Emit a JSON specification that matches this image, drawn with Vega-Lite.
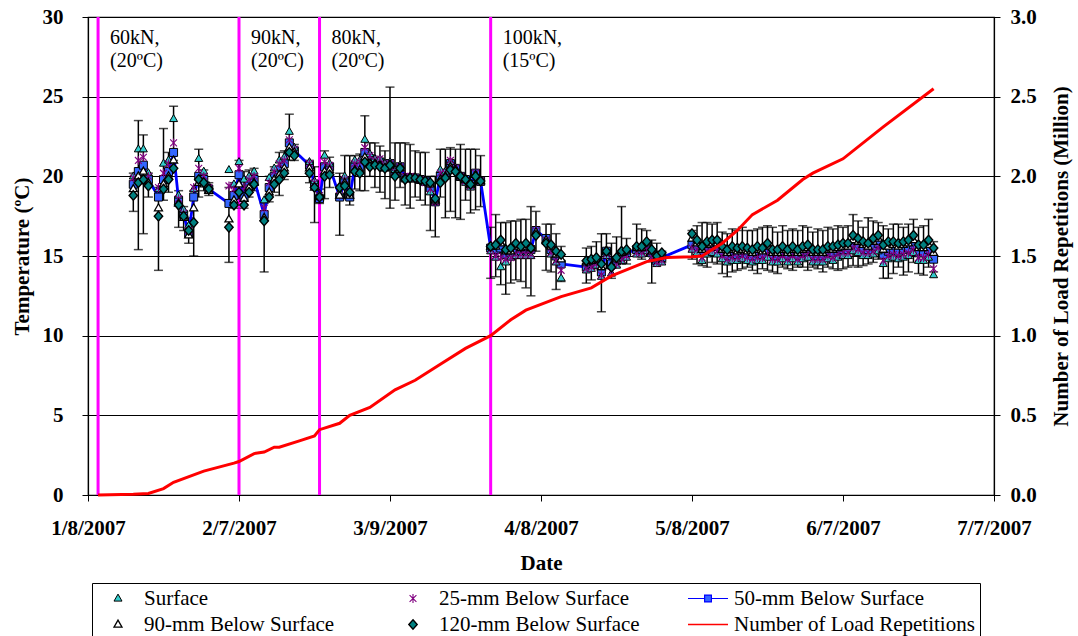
{
  "$schema": "https://vega.github.io/schema/vega-lite/v6.json",
  "width": 906,
  "height": 478,
  "autosize": {"type": "none"},
  "padding": {"left": 88, "top": 17, "right": 84, "bottom": 141},
  "background": "white",
  "config": {
    "font": "Liberation Serif",
    "view": {"stroke": "black", "strokeWidth": 1.2},
    "axis": {
      "labelFont": "Liberation Serif", "titleFont": "Liberation Serif",
      "labelFontSize": 21, "titleFontSize": 21,
      "labelFontWeight": "bold", "titleFontWeight": "bold",
      "labelColor": "black", "titleColor": "black",
      "domainColor": "black", "tickColor": "black", "domainWidth": 1.2,
      "gridColor": "black", "gridOpacity": 1, "gridWidth": 1, "tickSize": 6
    }
  },
  "datasets": {
    "events": [
      {"date": "2007/01/10", "note": "60kN,\n(20ºC)"},
      {"date": "2007/02/07", "note": "90kN,\n(20ºC)"},
      {"date": "2007/02/23", "note": "80kN,\n(20ºC)"},
      {"date": "2007/03/29", "note": "100kN,\n(15ºC)"}
    ],
    "load": [
      {"date": "2007/01/10", "reps": 0}, {"date": "2007/01/17", "reps": 0.005},
      {"date": "2007/01/20", "reps": 0.01}, {"date": "2007/01/23", "reps": 0.04},
      {"date": "2007/01/25", "reps": 0.08}, {"date": "2007/01/31", "reps": 0.15},
      {"date": "2007/02/06", "reps": 0.2}, {"date": "2007/02/07", "reps": 0.21},
      {"date": "2007/02/10", "reps": 0.26}, {"date": "2007/02/12", "reps": 0.27},
      {"date": "2007/02/14", "reps": 0.3}, {"date": "2007/02/15", "reps": 0.3},
      {"date": "2007/02/19", "reps": 0.34}, {"date": "2007/02/22", "reps": 0.37},
      {"date": "2007/02/23", "reps": 0.41}, {"date": "2007/02/27", "reps": 0.45},
      {"date": "2007/03/01", "reps": 0.5}, {"date": "2007/03/05", "reps": 0.55},
      {"date": "2007/03/10", "reps": 0.66}, {"date": "2007/03/14", "reps": 0.72},
      {"date": "2007/03/19", "reps": 0.82}, {"date": "2007/03/24", "reps": 0.92},
      {"date": "2007/03/29", "reps": 1.0}, {"date": "2007/04/02", "reps": 1.1},
      {"date": "2007/04/05", "reps": 1.16}, {"date": "2007/04/12", "reps": 1.245},
      {"date": "2007/04/18", "reps": 1.3}, {"date": "2007/04/22", "reps": 1.375},
      {"date": "2007/04/29", "reps": 1.465}, {"date": "2007/05/03", "reps": 1.49},
      {"date": "2007/05/08", "reps": 1.495}, {"date": "2007/05/10", "reps": 1.5},
      {"date": "2007/05/14", "reps": 1.58}, {"date": "2007/05/17", "reps": 1.66},
      {"date": "2007/05/20", "reps": 1.76}, {"date": "2007/05/25", "reps": 1.85},
      {"date": "2007/05/30", "reps": 1.98}, {"date": "2007/06/01", "reps": 2.02},
      {"date": "2007/06/07", "reps": 2.11}, {"date": "2007/06/15", "reps": 2.31},
      {"date": "2007/06/25", "reps": 2.55}
    ],
    "temps": [
      {"date": "2007/01/17", "d000": 20.0, "d025": 19.9, "d050": 19.5, "d090": 19.2, "d120": 18.8, "lo": 17.8, "hi": 20.2},
      {"date": "2007/01/18", "d000": 21.7, "d025": 21.0, "d050": 20.3, "d090": 20.0, "d120": 19.6, "lo": 15.4, "hi": 23.5},
      {"date": "2007/01/19", "d000": 21.7, "d025": 21.2, "d050": 20.7, "d090": 20.3, "d120": 19.8, "lo": 16.4, "hi": 22.6},
      {"date": "2007/01/20", "d000": 20.2, "d025": 20.0, "d050": 19.8, "d090": 19.6, "d120": 19.4, "lo": 18.7, "hi": 20.2},
      {"date": "2007/01/22", "d000": 19.2, "d025": 19.3, "d050": 18.7, "d090": 18.0, "d120": 17.5, "lo": 14.1, "hi": 19.3},
      {"date": "2007/01/23", "d000": 20.8, "d025": 20.2, "d050": 19.8, "d090": 19.5, "d120": 19.2, "lo": 18.5, "hi": 23.0},
      {"date": "2007/01/24", "d000": 21.0, "d025": 20.8, "d050": 20.3, "d090": 20.0, "d120": 19.8, "lo": 19.0, "hi": 21.5},
      {"date": "2007/01/25", "d000": 23.6, "d025": 22.1, "d050": 21.5, "d090": 21.0, "d120": 20.5, "lo": 21.0, "hi": 24.4},
      {"date": "2007/01/26", "d000": 18.8, "d025": 18.6, "d050": 18.5, "d090": 18.3, "d120": 18.2, "lo": 16.8, "hi": 19.1},
      {"date": "2007/01/27", "d000": 17.9, "d025": 17.7, "d050": 17.6, "d090": 17.4, "d120": 17.5, "lo": 16.6, "hi": 18.1},
      {"date": "2007/01/28", "d000": 16.9, "d025": 16.6, "d050": 16.4, "d090": 16.3, "d120": 16.6, "lo": 15.8, "hi": 17.4},
      {"date": "2007/01/29", "d000": 19.2, "d025": 19.3, "d050": 18.7, "d090": 18.0, "d120": 17.1, "lo": 15.0, "hi": 19.1},
      {"date": "2007/01/30", "d000": 21.1, "d025": 20.5, "d050": 20.0, "d090": 19.6, "d120": 19.8, "lo": 18.7, "hi": 21.7},
      {"date": "2007/01/31", "d000": 20.3, "d025": 20.0, "d050": 19.8, "d090": 19.5, "d120": 19.6, "lo": 19.1, "hi": 20.4},
      {"date": "2007/02/01", "d000": 19.4, "d025": 19.3, "d050": 19.2, "d090": 19.1, "d120": 19.2, "lo": 18.8, "hi": 19.6},
      {"date": "2007/02/05", "d000": 20.4, "d025": 19.4, "d050": 18.3, "d090": 17.3, "d120": 16.8, "lo": 14.6, "hi": 19.3},
      {"date": "2007/02/06", "d000": 19.5, "d025": 19.2, "d050": 18.8, "d090": 18.5, "d120": 18.2, "lo": 18.0, "hi": 19.6},
      {"date": "2007/02/07", "d000": 20.9, "d025": 20.5, "d050": 20.1, "d090": 19.5, "d120": 19.0, "lo": 18.6, "hi": 21.0},
      {"date": "2007/02/08", "d000": 19.8, "d025": 19.3, "d050": 18.7, "d090": 18.6, "d120": 18.2, "lo": 18.0, "hi": 20.3},
      {"date": "2007/02/09", "d000": 20.0, "d025": 19.8, "d050": 19.5, "d090": 19.3, "d120": 19.0, "lo": 18.7, "hi": 20.4},
      {"date": "2007/02/10", "d000": 20.3, "d025": 20.0, "d050": 19.8, "d090": 19.6, "d120": 19.5, "lo": 19.1, "hi": 20.5},
      {"date": "2007/02/12", "d000": 18.5, "d025": 18.0, "d050": 17.6, "d090": 17.4, "d120": 17.2, "lo": 14.0, "hi": 18.3},
      {"date": "2007/02/13", "d000": 19.9, "d025": 19.6, "d050": 19.3, "d090": 19.0, "d120": 18.7, "lo": 18.4, "hi": 20.0},
      {"date": "2007/02/14", "d000": 20.5, "d025": 20.3, "d050": 20.0, "d090": 19.8, "d120": 19.5, "lo": 19.0, "hi": 20.6},
      {"date": "2007/02/15", "d000": 21.0, "d025": 20.8, "d050": 20.4, "d090": 20.1, "d120": 19.8, "lo": 18.8, "hi": 21.5},
      {"date": "2007/02/16", "d000": 21.2, "d025": 21.0, "d050": 20.8, "d090": 20.5, "d120": 20.2, "lo": 19.8, "hi": 21.6},
      {"date": "2007/02/17", "d000": 22.8, "d025": 22.3, "d050": 22.1, "d090": 21.8, "d120": 21.5, "lo": 21.0, "hi": 23.9},
      {"date": "2007/02/18", "d000": 21.8, "d025": 21.7, "d050": 21.6, "d090": 21.5, "d120": 21.3, "lo": 21.0, "hi": 22.0},
      {"date": "2007/02/21", "d000": 20.9, "d025": 20.8, "d050": 20.7, "d090": 20.5, "d120": 20.2, "lo": 19.6, "hi": 21.0},
      {"date": "2007/02/22", "d000": 19.7, "d025": 19.6, "d050": 19.5, "d090": 19.3, "d120": 19.3, "lo": 17.1, "hi": 20.6},
      {"date": "2007/02/23", "d000": 18.9, "d025": 18.8, "d050": 18.6, "d090": 18.7, "d120": 18.7, "lo": 18.3, "hi": 19.2},
      {"date": "2007/02/24", "d000": 21.3, "d025": 20.9, "d050": 20.6, "d090": 20.3, "d120": 20.0, "lo": 18.6, "hi": 21.6},
      {"date": "2007/02/25", "d000": 20.8, "d025": 20.7, "d050": 20.6, "d090": 20.4, "d120": 20.1, "lo": 19.3, "hi": 21.2},
      {"date": "2007/02/27", "d000": 19.0, "d025": 18.8, "d050": 18.7, "d090": 18.8, "d120": 19.3, "lo": 16.3, "hi": 20.2},
      {"date": "2007/02/28", "d000": 20.0, "d025": 19.8, "d050": 19.7, "d090": 19.6, "d120": 19.4, "lo": 18.6, "hi": 21.3},
      {"date": "2007/03/01", "d000": 19.0, "d025": 18.9, "d050": 18.7, "d090": 18.8, "d120": 19.0, "lo": 18.2, "hi": 21.3},
      {"date": "2007/03/02", "d000": 21.0, "d025": 20.8, "d050": 20.6, "d090": 20.4, "d120": 20.3, "lo": 19.2, "hi": 21.3},
      {"date": "2007/03/03", "d000": 21.0, "d025": 20.9, "d050": 20.6, "d090": 20.4, "d120": 20.2, "lo": 19.1, "hi": 21.4},
      {"date": "2007/03/04", "d000": 22.3, "d025": 21.8, "d050": 21.5, "d090": 21.2, "d120": 20.9, "lo": 19.1, "hi": 23.8},
      {"date": "2007/03/05", "d000": 21.4, "d025": 21.3, "d050": 21.1, "d090": 20.8, "d120": 20.6, "lo": 20.0, "hi": 22.1},
      {"date": "2007/03/06", "d000": 21.1, "d025": 21.0, "d050": 20.9, "d090": 20.8, "d120": 20.7, "lo": 19.3, "hi": 22.1},
      {"date": "2007/03/07", "d000": 21.1, "d025": 21.1, "d050": 20.9, "d090": 20.7, "d120": 20.6, "lo": 19.0, "hi": 21.9},
      {"date": "2007/03/08", "d000": 20.8, "d025": 20.7, "d050": 20.6, "d090": 20.5, "d120": 20.5, "lo": 18.6, "hi": 21.6},
      {"date": "2007/03/09", "d000": 20.9, "d025": 20.8, "d050": 20.8, "d090": 20.7, "d120": 20.7, "lo": 18.0, "hi": 25.6},
      {"date": "2007/03/10", "d000": 20.4, "d025": 20.3, "d050": 20.2, "d090": 20.1, "d120": 20.0, "lo": 18.5, "hi": 22.1},
      {"date": "2007/03/11", "d000": 20.7, "d025": 20.6, "d050": 20.6, "d090": 20.5, "d120": 20.5, "lo": 19.3, "hi": 22.1},
      {"date": "2007/03/12", "d000": 20.0, "d025": 20.0, "d050": 19.9, "d090": 19.9, "d120": 19.8, "lo": 18.2, "hi": 22.1},
      {"date": "2007/03/13", "d000": 20.0, "d025": 20.0, "d050": 19.9, "d090": 19.9, "d120": 19.9, "lo": 18.0, "hi": 22.0},
      {"date": "2007/03/14", "d000": 19.9, "d025": 19.9, "d050": 19.9, "d090": 19.9, "d120": 19.9, "lo": 18.7, "hi": 21.6},
      {"date": "2007/03/15", "d000": 19.8, "d025": 19.8, "d050": 19.8, "d090": 19.8, "d120": 19.8, "lo": 18.5, "hi": 21.5},
      {"date": "2007/03/16", "d000": 19.6, "d025": 19.6, "d050": 19.7, "d090": 19.7, "d120": 19.7, "lo": 18.2, "hi": 21.5},
      {"date": "2007/03/17", "d000": 19.0, "d025": 19.2, "d050": 19.3, "d090": 19.5, "d120": 19.6, "lo": 16.6, "hi": 20.0},
      {"date": "2007/03/18", "d000": 18.4, "d025": 18.4, "d050": 18.4, "d090": 18.5, "d120": 18.6, "lo": 16.2, "hi": 20.0},
      {"date": "2007/03/19", "d000": 20.4, "d025": 20.2, "d050": 20.0, "d090": 19.8, "d120": 19.6, "lo": 18.7, "hi": 21.7},
      {"date": "2007/03/20", "d000": 20.3, "d025": 20.2, "d050": 20.2, "d090": 20.0, "d120": 19.9, "lo": 17.4, "hi": 21.7},
      {"date": "2007/03/21", "d000": 20.9, "d025": 21.0, "d050": 20.8, "d090": 20.6, "d120": 20.4, "lo": 17.8, "hi": 21.8},
      {"date": "2007/03/22", "d000": 20.5, "d025": 20.5, "d050": 20.5, "d090": 20.4, "d120": 20.3, "lo": 17.4, "hi": 21.7},
      {"date": "2007/03/23", "d000": 19.9, "d025": 20.0, "d050": 20.0, "d090": 20.0, "d120": 20.0, "lo": 17.3, "hi": 22.0},
      {"date": "2007/03/24", "d000": 19.6, "d025": 19.7, "d050": 19.8, "d090": 19.8, "d120": 19.8, "lo": 18.5, "hi": 21.7},
      {"date": "2007/03/25", "d000": 19.3, "d025": 19.4, "d050": 19.5, "d090": 19.5, "d120": 19.5, "lo": 17.7, "hi": 21.7},
      {"date": "2007/03/26", "d000": 20.1, "d025": 20.2, "d050": 20.2, "d090": 20.1, "d120": 20.0, "lo": 17.9, "hi": 21.7},
      {"date": "2007/03/27", "d000": 19.6, "d025": 19.7, "d050": 19.7, "d090": 19.7, "d120": 19.7, "lo": 18.1, "hi": 21.3},
      {"date": "2007/03/29", "d000": 15.3, "d025": 15.4, "d050": 15.5, "d090": 15.6, "d120": 15.6, "lo": 13.6, "hi": 16.8},
      {"date": "2007/03/30", "d000": 14.9, "d025": 15.0, "d050": 15.4, "d090": 15.6, "d120": 15.7, "lo": 13.7, "hi": 17.6},
      {"date": "2007/03/31", "d000": 14.3, "d025": 14.9, "d050": 15.5, "d090": 15.8, "d120": 16.0, "lo": 13.2, "hi": 17.1},
      {"date": "2007/04/01", "d000": 14.6, "d025": 14.8, "d050": 15.1, "d090": 15.3, "d120": 15.4, "lo": 12.6, "hi": 17.1},
      {"date": "2007/04/02", "d000": 14.9, "d025": 14.9, "d050": 15.2, "d090": 15.3, "d120": 15.5, "lo": 13.3, "hi": 17.2},
      {"date": "2007/04/03", "d000": 15.0, "d025": 15.1, "d050": 15.4, "d090": 15.6, "d120": 15.8, "lo": 13.5, "hi": 17.2},
      {"date": "2007/04/04", "d000": 15.0, "d025": 15.1, "d050": 15.3, "d090": 15.5, "d120": 15.6, "lo": 13.4, "hi": 17.3},
      {"date": "2007/04/05", "d000": 15.0, "d025": 15.1, "d050": 15.4, "d090": 15.6, "d120": 15.8, "lo": 13.0, "hi": 17.3},
      {"date": "2007/04/06", "d000": 15.0, "d025": 15.1, "d050": 15.4, "d090": 15.5, "d120": 15.5, "lo": 12.5, "hi": 18.1},
      {"date": "2007/04/07", "d000": 16.5, "d025": 16.6, "d050": 16.6, "d090": 16.5, "d120": 16.3, "lo": 15.3, "hi": 17.8},
      {"date": "2007/04/09", "d000": 15.9, "d025": 16.0, "d050": 16.1, "d090": 16.0, "d120": 15.8, "lo": 14.1, "hi": 17.0},
      {"date": "2007/04/10", "d000": 15.1, "d025": 15.2, "d050": 15.4, "d090": 15.6, "d120": 15.7, "lo": 14.0, "hi": 17.0},
      {"date": "2007/04/11", "d000": 14.6, "d025": 14.7, "d050": 15.0, "d090": 15.1, "d120": 15.3, "lo": 12.9, "hi": 16.4},
      {"date": "2007/04/12", "d000": 13.6, "d025": 14.1, "d050": 14.5, "d090": 14.8, "d120": 15.1, "lo": 13.4, "hi": 15.6},
      {"date": "2007/04/17", "d000": 14.1, "d025": 14.2, "d050": 14.3, "d090": 14.6, "d120": 14.7, "lo": 13.3, "hi": 15.5},
      {"date": "2007/04/18", "d000": 14.2, "d025": 14.3, "d050": 14.5, "d090": 14.7, "d120": 14.8, "lo": 13.5, "hi": 15.6},
      {"date": "2007/04/19", "d000": 14.4, "d025": 14.5, "d050": 14.7, "d090": 14.8, "d120": 14.9, "lo": 14.2, "hi": 15.9},
      {"date": "2007/04/20", "d000": 13.7, "d025": 13.8, "d050": 14.0, "d090": 14.3, "d120": 14.5, "lo": 11.5, "hi": 16.4},
      {"date": "2007/04/21", "d000": 15.0, "d025": 15.1, "d050": 15.3, "d090": 15.3, "d120": 15.3, "lo": 14.2, "hi": 16.4},
      {"date": "2007/04/22", "d000": 13.9, "d025": 14.0, "d050": 14.5, "d090": 14.4, "d120": 14.3, "lo": 13.6, "hi": 15.8},
      {"date": "2007/04/23", "d000": 14.4, "d025": 14.5, "d050": 14.7, "d090": 14.8, "d120": 14.9, "lo": 14.3, "hi": 16.2},
      {"date": "2007/04/24", "d000": 14.7, "d025": 14.8, "d050": 15.0, "d090": 15.2, "d120": 15.3, "lo": 14.5, "hi": 18.1},
      {"date": "2007/04/25", "d000": 14.9, "d025": 15.0, "d050": 15.2, "d090": 15.3, "d120": 15.4, "lo": 14.5, "hi": 16.1},
      {"date": "2007/04/27", "d000": 15.1, "d025": 15.2, "d050": 15.4, "d090": 15.5, "d120": 15.6, "lo": 15.0, "hi": 17.0},
      {"date": "2007/04/28", "d000": 15.1, "d025": 15.2, "d050": 15.4, "d090": 15.5, "d120": 15.6, "lo": 14.8, "hi": 16.7},
      {"date": "2007/04/29", "d000": 15.3, "d025": 15.4, "d050": 15.6, "d090": 15.8, "d120": 15.9, "lo": 15.0, "hi": 16.6},
      {"date": "2007/04/30", "d000": 14.8, "d025": 14.9, "d050": 15.2, "d090": 15.3, "d120": 15.4, "lo": 13.3, "hi": 16.0},
      {"date": "2007/05/01", "d000": 14.5, "d025": 14.6, "d050": 14.7, "d090": 14.9, "d120": 15.0, "lo": 14.6, "hi": 15.8},
      {"date": "2007/05/02", "d000": 14.6, "d025": 14.7, "d050": 14.9, "d090": 15.1, "d120": 15.2, "lo": 14.6, "hi": 15.3},
      {"date": "2007/05/08", "d000": 15.4, "d025": 15.5, "d050": 15.7, "d090": 16.1, "d120": 16.4, "lo": 14.8, "hi": 16.6},
      {"date": "2007/05/09", "d000": 15.2, "d025": 15.4, "d050": 15.6, "d090": 15.8, "d120": 16.0, "lo": 14.5, "hi": 16.9},
      {"date": "2007/05/10", "d000": 14.7, "d025": 14.9, "d050": 15.2, "d090": 15.4, "d120": 15.6, "lo": 14.4, "hi": 17.1},
      {"date": "2007/05/11", "d000": 15.1, "d025": 15.3, "d050": 15.5, "d090": 15.7, "d120": 15.9, "lo": 14.3, "hi": 17.1},
      {"date": "2007/05/12", "d000": 15.2, "d025": 15.4, "d050": 15.6, "d090": 15.8, "d120": 16.0, "lo": 14.6, "hi": 17.0},
      {"date": "2007/05/13", "d000": 15.1, "d025": 15.3, "d050": 15.6, "d090": 15.8, "d120": 16.0, "lo": 14.5, "hi": 17.1},
      {"date": "2007/05/14", "d000": 14.8, "d025": 15.0, "d050": 15.2, "d090": 15.4, "d120": 15.6, "lo": 13.9, "hi": 16.5},
      {"date": "2007/05/15", "d000": 14.6, "d025": 14.8, "d050": 15.0, "d090": 15.2, "d120": 15.4, "lo": 13.7, "hi": 16.4},
      {"date": "2007/05/16", "d000": 14.7, "d025": 14.9, "d050": 15.2, "d090": 15.4, "d120": 15.6, "lo": 14.0, "hi": 16.7},
      {"date": "2007/05/17", "d000": 14.7, "d025": 14.9, "d050": 15.1, "d090": 15.3, "d120": 15.5, "lo": 14.1, "hi": 16.6},
      {"date": "2007/05/18", "d000": 14.8, "d025": 15.0, "d050": 15.2, "d090": 15.4, "d120": 15.6, "lo": 14.2, "hi": 16.8},
      {"date": "2007/05/19", "d000": 14.7, "d025": 14.9, "d050": 15.1, "d090": 15.3, "d120": 15.5, "lo": 14.3, "hi": 16.6},
      {"date": "2007/05/20", "d000": 14.6, "d025": 14.8, "d050": 15.0, "d090": 15.2, "d120": 15.4, "lo": 14.1, "hi": 16.6},
      {"date": "2007/05/21", "d000": 14.7, "d025": 14.9, "d050": 15.2, "d090": 15.4, "d120": 15.6, "lo": 13.9, "hi": 16.7},
      {"date": "2007/05/22", "d000": 14.7, "d025": 14.9, "d050": 15.1, "d090": 15.3, "d120": 15.5, "lo": 14.2, "hi": 16.8},
      {"date": "2007/05/23", "d000": 14.9, "d025": 15.1, "d050": 15.4, "d090": 15.6, "d120": 15.8, "lo": 14.1, "hi": 16.9},
      {"date": "2007/05/24", "d000": 14.6, "d025": 14.8, "d050": 15.0, "d090": 15.2, "d120": 15.4, "lo": 14.0, "hi": 16.8},
      {"date": "2007/05/25", "d000": 14.6, "d025": 14.8, "d050": 15.0, "d090": 15.2, "d120": 15.4, "lo": 13.9, "hi": 16.5},
      {"date": "2007/05/26", "d000": 14.8, "d025": 15.0, "d050": 15.2, "d090": 15.4, "d120": 15.6, "lo": 14.3, "hi": 16.9},
      {"date": "2007/05/27", "d000": 14.6, "d025": 14.8, "d050": 15.0, "d090": 15.2, "d120": 15.4, "lo": 14.2, "hi": 16.6},
      {"date": "2007/05/28", "d000": 14.8, "d025": 15.0, "d050": 15.2, "d090": 15.4, "d120": 15.6, "lo": 14.1, "hi": 16.7},
      {"date": "2007/05/29", "d000": 14.6, "d025": 14.8, "d050": 15.0, "d090": 15.2, "d120": 15.4, "lo": 14.3, "hi": 16.6},
      {"date": "2007/05/30", "d000": 14.8, "d025": 15.0, "d050": 15.2, "d090": 15.4, "d120": 15.6, "lo": 14.3, "hi": 16.9},
      {"date": "2007/05/31", "d000": 14.9, "d025": 15.1, "d050": 15.3, "d090": 15.5, "d120": 15.7, "lo": 14.1, "hi": 16.8},
      {"date": "2007/06/01", "d000": 14.6, "d025": 14.8, "d050": 15.0, "d090": 15.2, "d120": 15.4, "lo": 14.3, "hi": 16.5},
      {"date": "2007/06/02", "d000": 14.6, "d025": 14.8, "d050": 15.0, "d090": 15.2, "d120": 15.4, "lo": 14.2, "hi": 16.7},
      {"date": "2007/06/03", "d000": 14.6, "d025": 14.8, "d050": 15.0, "d090": 15.2, "d120": 15.4, "lo": 14.0, "hi": 16.6},
      {"date": "2007/06/04", "d000": 14.8, "d025": 15.0, "d050": 15.2, "d090": 15.4, "d120": 15.6, "lo": 14.3, "hi": 16.8},
      {"date": "2007/06/05", "d000": 14.7, "d025": 14.9, "d050": 15.2, "d090": 15.4, "d120": 15.6, "lo": 14.2, "hi": 16.7},
      {"date": "2007/06/06", "d000": 14.9, "d025": 15.1, "d050": 15.3, "d090": 15.5, "d120": 15.7, "lo": 14.1, "hi": 16.9},
      {"date": "2007/06/07", "d000": 15.0, "d025": 15.2, "d050": 15.4, "d090": 15.6, "d120": 15.8, "lo": 14.2, "hi": 16.8},
      {"date": "2007/06/08", "d000": 15.0, "d025": 15.2, "d050": 15.4, "d090": 15.6, "d120": 15.8, "lo": 14.3, "hi": 16.9},
      {"date": "2007/06/09", "d000": 15.3, "d025": 15.5, "d050": 15.7, "d090": 16.0, "d120": 16.3, "lo": 14.4, "hi": 17.6},
      {"date": "2007/06/10", "d000": 15.2, "d025": 15.4, "d050": 15.6, "d090": 15.9, "d120": 16.1, "lo": 14.3, "hi": 17.2},
      {"date": "2007/06/11", "d000": 15.0, "d025": 15.2, "d050": 15.4, "d090": 15.7, "d120": 15.9, "lo": 14.4, "hi": 16.8},
      {"date": "2007/06/12", "d000": 15.0, "d025": 15.2, "d050": 15.4, "d090": 15.6, "d120": 15.8, "lo": 14.5, "hi": 17.4},
      {"date": "2007/06/13", "d000": 15.1, "d025": 15.3, "d050": 15.6, "d090": 15.9, "d120": 16.1, "lo": 14.6, "hi": 17.2},
      {"date": "2007/06/14", "d000": 15.3, "d025": 15.5, "d050": 15.8, "d090": 16.1, "d120": 16.3, "lo": 14.8, "hi": 17.1},
      {"date": "2007/06/15", "d000": 14.5, "d025": 14.7, "d050": 15.1, "d090": 15.4, "d120": 15.7, "lo": 13.6, "hi": 16.9},
      {"date": "2007/06/16", "d000": 14.8, "d025": 15.0, "d050": 15.3, "d090": 15.6, "d120": 15.9, "lo": 13.6, "hi": 16.7},
      {"date": "2007/06/17", "d000": 14.9, "d025": 15.1, "d050": 15.4, "d090": 15.7, "d120": 15.9, "lo": 13.9, "hi": 17.0},
      {"date": "2007/06/18", "d000": 14.8, "d025": 15.0, "d050": 15.3, "d090": 15.6, "d120": 15.8, "lo": 14.3, "hi": 17.0},
      {"date": "2007/06/19", "d000": 14.9, "d025": 15.1, "d050": 15.4, "d090": 15.7, "d120": 15.9, "lo": 13.8, "hi": 16.8},
      {"date": "2007/06/20", "d000": 15.0, "d025": 15.2, "d050": 15.5, "d090": 15.8, "d120": 16.0, "lo": 14.0, "hi": 17.0},
      {"date": "2007/06/21", "d000": 15.2, "d025": 15.4, "d050": 15.7, "d090": 16.0, "d120": 16.3, "lo": 14.6, "hi": 17.3},
      {"date": "2007/06/22", "d000": 14.7, "d025": 14.9, "d050": 15.2, "d090": 15.5, "d120": 15.7, "lo": 13.9, "hi": 16.8},
      {"date": "2007/06/23", "d000": 14.7, "d025": 14.9, "d050": 15.2, "d090": 15.5, "d120": 15.7, "lo": 13.8, "hi": 16.9},
      {"date": "2007/06/24", "d000": 14.9, "d025": 15.1, "d050": 15.4, "d090": 15.7, "d120": 16.0, "lo": 14.3, "hi": 17.3},
      {"date": "2007/06/25", "d000": 13.8, "d025": 14.2, "d050": 14.8, "d090": 15.2, "d120": 15.5, "lo": 14.0, "hi": 15.9}
    ]
  },
  "encoding": {
    "x": {
      "field": "date",
      "type": "temporal",
      "scale": {"domain": [{"year": 2007, "month": 1, "date": 8}, {"year": 2007, "month": 7, "date": 7}]},
      "axis": {
        "title": "Date",
        "grid": false,
        "format": "%-m/%-d/%Y",
        "values": [
          {"year": 2007, "month": 1, "date": 8}, {"year": 2007, "month": 2, "date": 7},
          {"year": 2007, "month": 3, "date": 9}, {"year": 2007, "month": 4, "date": 8},
          {"year": 2007, "month": 5, "date": 8}, {"year": 2007, "month": 6, "date": 7},
          {"year": 2007, "month": 7, "date": 7}
        ],
        "labelFlush": false,
        "labelOverlap": false,
        "labelPadding": 16,
        "titlePadding": 14
      }
    }
  },
  "layer": [
    {
      "layer": [
        {
          "data": {"name": "events"},
          "mark": {"type": "rule", "color": "#FF00FF", "strokeWidth": 3},
          "encoding": {}
        },
        {
          "data": {"name": "events"},
          "mark": {"type": "text", "align": "left", "baseline": "alphabetic", "dx": 12, "fontSize": 20, "font": "Liberation Serif", "lineBreak": "\n", "lineHeight": 23, "color": "black"},
          "encoding": {
            "y": {"datum": 28.3, "type": "quantitative", "scale": {"domain": [0, 30]}, "title": "Temperature (ºC)",
              "axis": {"title": "Temperature (ºC)", "values": [0, 5, 10, 15, 20, 25, 30], "grid": true, "labelPadding": 19, "titlePadding": 10}},
            "text": {"field": "note"}
          }
        },
        {
          "data": {"name": "temps"},
          "mark": {"type": "errorbar", "ticks": {"size": 9}, "color": "black", "thickness": 1.5},
          "encoding": {
            "y": {"field": "lo", "type": "quantitative", "scale": {"domain": [0, 30]}, "title": "Temperature (ºC)"},
            "y2": {"field": "hi"}
          }
        },
        {
          "data": {"name": "temps"},
          "mark": {"type": "line", "color": "#0000FF", "strokeWidth": 2.8},
          "encoding": {
            "y": {"field": "d050", "type": "quantitative", "scale": {"domain": [0, 30]}, "title": "Temperature (ºC)"}
          }
        },
        {
          "data": {"name": "temps"},
          "mark": {"type": "point", "shape": "square", "filled": true, "fill": "#3366FF", "stroke": "black", "strokeWidth": 1, "size": 64, "opacity": 1},
          "encoding": {
            "y": {"field": "d050", "type": "quantitative", "scale": {"domain": [0, 30]}, "title": "Temperature (ºC)"}
          }
        },
        {
          "data": {"name": "temps"},
          "transform": [{"fold": ["d000", "d025", "d090", "d120"], "as": ["key", "val"]}],
          "mark": {"type": "point", "size": 1600, "opacity": 1},
          "encoding": {
            "y": {"field": "val", "type": "quantitative", "scale": {"domain": [0, 30]}, "title": "Temperature (ºC)"},
            "order": {"field": "key", "sort": "ascending"},
            "fill": {
              "field": "key", "type": "nominal", "title": null,
              "scale": {"domain": ["d000", "d025", "d050", "d090", "d120", "load"], "range": ["#33CCCC", "transparent", "#3366FF", "#FFFFFF", "#008080", "transparent"]},
              "legend": {
                "title": null, "orient": "none", "legendX": 4, "legendY": 566,
                "direction": "horizontal", "columns": 3, "gridAlign": "all",
                "columnPadding": 7, "rowPadding": 4, "padding": 5, "clipHeight": 21,
                "strokeColor": "black", "fillColor": "white",
                "symbolSize": 1600, "symbolOpacity": 1,
                "labelFont": "Liberation Serif", "labelFontSize": 21, "labelColor": "black", "labelOffset": 5, "labelLimit": 400,
                "labelExpr": "{'d000': 'Surface', 'd025': '25-mm Below Surface', 'd050': '50-mm Below Surface', 'd090': '90-mm Below Surface', 'd120': '120-mm Below Surface', 'load': 'Number of Load Repetitions'}[datum.value]"
              }
            },
            "stroke": {
              "field": "key", "type": "nominal", "title": null,
              "scale": {"domain": ["d000", "d025", "d050", "d090", "d120", "load"], "range": ["#000000", "#800080", "#0000FF", "#000000", "#000000", "#FF0000"]}
            },
            "shape": {
              "field": "key", "type": "nominal", "title": null,
              "scale": {"domain": ["d000", "d025", "d050", "d090", "d120", "load"], "range": [
                "M0,-0.22L0.2,0.13L-0.2,0.13Z",
                "M-0.17,-0.17L0.17,0.17M-0.17,0.17L0.17,-0.17M0,-0.22L0,0.22",
                "M-1,0L-0.17,0M0.17,0L1,0M-0.17,-0.17L0.17,-0.17L0.17,0.17L-0.17,0.17Z",
                "M0,-0.22L0.2,0.13L-0.2,0.13Z",
                "M0,-0.24L0.21,0L0,0.24L-0.21,0Z",
                "M-1,0L1,0"
              ]}
            },
            "strokeWidth": {
              "field": "key", "type": "nominal", "title": null,
              "scale": {"domain": ["d000", "d025", "d050", "d090", "d120", "load"], "range": [1, 1.5, 2.5, 1, 1, 3]}
            }
          }
        }
      ]
    },
    {
      "data": {"name": "load"},
      "mark": {"type": "line", "color": "#FF0000", "strokeWidth": 3},
      "encoding": {
        "y": {
          "field": "reps", "type": "quantitative", "scale": {"domain": [0, 3]},
          "axis": {"orient": "right", "title": "Number of Load Repetitions (Million)", "values": [0, 0.5, 1, 1.5, 2, 2.5, 3], "format": ".1f", "grid": false, "labelPadding": 10, "titlePadding": 14, "titleAngle": 270, "titleBaseline": "top"}
        }
      }
    }
  ],
  "resolve": {"scale": {"y": "independent"}}
}
